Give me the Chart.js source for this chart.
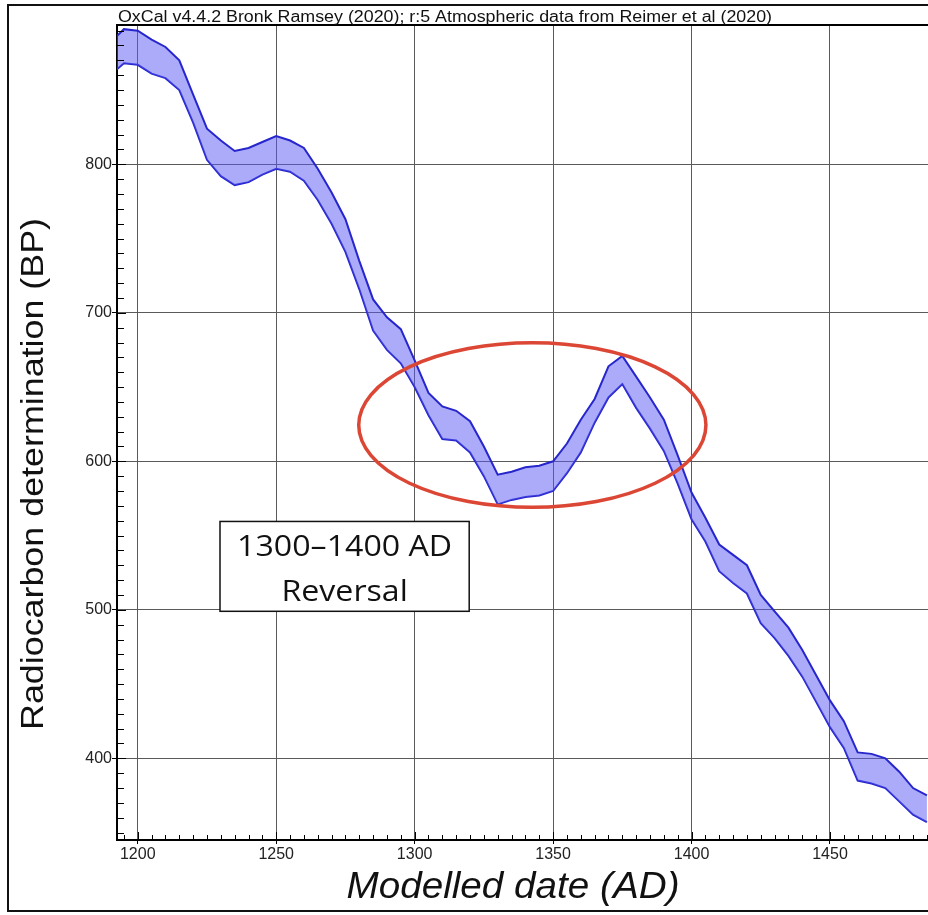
<!DOCTYPE html>
<html>
<head>
<meta charset="utf-8">
<script src="https://cdn.jsdelivr.net/npm/chart.js@4/dist/chart.umd.min.js"></script>
<style>
  html, body { margin: 0; padding: 0; background: #fff; overflow: hidden; }
  canvas { display: block; }
</style>
</head>
<body>
<canvas id="curva" width="928" height="915"></canvas>
<script>
const years = [1190, 1195, 1200, 1205, 1210, 1215, 1220, 1225, 1230, 1235,
  1240, 1245, 1250, 1255, 1260, 1265, 1270, 1275, 1280, 1285,
  1290, 1295, 1300, 1305, 1310, 1315, 1320, 1325, 1330, 1335,
  1340, 1345, 1350, 1355, 1360, 1365, 1370, 1375, 1380, 1385,
  1390, 1395, 1400, 1405, 1410, 1415, 1420, 1425, 1430, 1435,
  1440, 1445, 1450, 1455, 1460, 1465, 1470, 1475, 1480, 1485];

const upperBP = [882, 891, 890, 884, 879, 870, 847, 824, 816, 809,
  811, 815, 819, 816, 811, 797, 781, 763, 735, 709,
  697, 689, 668, 646, 637, 634, 627, 610, 591, 593,
  596, 597, 600, 612, 628, 642, 664, 671, 657, 643,
  628, 604, 579, 562, 544, 537, 530, 510, 499, 488,
  473, 456, 439, 425, 404, 403, 400, 391, 380, 375];

const lowerBP = [860, 868, 867, 861, 858, 850, 828, 803, 792, 786,
  788, 793, 797, 795, 789, 776, 760, 741, 716, 688,
  675, 666, 650, 631, 615, 614, 606, 590, 571, 574,
  576, 577, 580, 592, 606, 626, 643, 652, 636, 622,
  607, 585, 561, 546, 526, 518, 511, 491, 481, 469,
  455, 438, 421, 407, 385, 383, 380, 371, 362, 357];

const xMajorTicks = [1200, 1250, 1300, 1350, 1400, 1450];
const yMajorTicks = [400, 500, 600, 700, 800];

// anotaciones (en unidades de los ejes)
const ellipseCenter = [1342.5, 624.4];
const ellipseRadius = [62.7, 55.4];
const boxYears = [1229.7, 1319.7];
const boxBP = [499, 559.5];

const titleText = "OxCal v4.4.2 Bronk Ramsey (2020); r:5 Atmospheric data from Reimer et al (2020)";
const xTitle = "Modelled date (AD)";
const yTitle = "Radiocarbon determination (BP)";
const boxLines = ["1300\u20131400 AD", "Reversal"];

const SANS = '"Liberation Sans", Arial, sans-serif';

// Texto escalado horizontalmente para ocupar un ancho dado
function textoAjustado(ctx, text, x, y, width, align) {
  const w = ctx.measureText(text).width;
  ctx.save();
  ctx.translate(x, y);
  ctx.scale(width / w, 1);
  ctx.textAlign = align;
  ctx.fillText(text, 0, 0);
  ctx.restore();
  return width / w;
}

const esMayor = (v, lista) => lista.includes(Math.round(v));

const overlay = {
  id: "overlay",
  beforeDraw(chart) {
    const ctx = chart.ctx;
    ctx.save();
    ctx.fillStyle = "#fff";
    ctx.fillRect(0, 0, chart.width, chart.height);
    ctx.restore();
  },
  afterDraw(chart) {
    const ctx = chart.ctx;
    const area = chart.chartArea;
    const xs = chart.scales.x;
    const ys = chart.scales.y;
    ctx.save();

    // ticks menores hacia dentro
    ctx.strokeStyle = "#000";
    ctx.lineWidth = 1;
    ctx.beginPath();
    xs.ticks.forEach((t) => {
      const px = Math.round(xs.getPixelForValue(t.value)) + 0.5;
      const len = esMayor(t.value, xMajorTicks) ? 8 : 5;
      ctx.moveTo(px, area.bottom);
      ctx.lineTo(px, area.bottom - len);
    });
    ys.ticks.forEach((t) => {
      const py = Math.round(ys.getPixelForValue(t.value)) + 0.5;
      const len = esMayor(t.value, yMajorTicks) ? 9 : 7;
      ctx.moveTo(area.left, py);
      ctx.lineTo(area.left + len, py);
    });
    ctx.stroke();

    // borde superior del grafico
    ctx.lineWidth = 2;
    ctx.beginPath();
    ctx.moveTo(area.left - 1, area.top);
    ctx.lineTo(area.right, area.top);
    ctx.stroke();

    // elipse roja
    const cx = xs.getPixelForValue(ellipseCenter[0]);
    const cy = ys.getPixelForValue(ellipseCenter[1]);
    const rx = xs.getPixelForValue(ellipseCenter[0] + ellipseRadius[0]) - cx;
    const ry = cy - ys.getPixelForValue(ellipseCenter[1] + ellipseRadius[1]);
    ctx.strokeStyle = "#dc4634";
    ctx.lineWidth = 3.5;
    ctx.beginPath();
    ctx.ellipse(cx, cy, rx, ry, 0, 0, Math.PI * 2);
    ctx.stroke();

    // recuadro de la anotacion
    const bx1 = xs.getPixelForValue(boxYears[0]);
    const bx2 = xs.getPixelForValue(boxYears[1]);
    const by1 = ys.getPixelForValue(boxBP[1]);
    const by2 = ys.getPixelForValue(boxBP[0]);
    ctx.fillStyle = "#fff";
    ctx.fillRect(bx1, by1, bx2 - bx1, by2 - by1);
    ctx.strokeStyle = "#111";
    ctx.lineWidth = 1.5;
    ctx.strokeRect(bx1, by1, bx2 - bx1, by2 - by1);
    const bcx = (bx1 + bx2) / 2;
    ctx.fillStyle = "#111";
    ctx.font = '30px "Open Sans", "Noto Sans", sans-serif';
    ctx.textBaseline = "alphabetic";
    const sc = textoAjustado(ctx, boxLines[0], bcx, by1 + 35, 215, "center");
    const w2 = ctx.measureText(boxLines[1]).width * sc;
    textoAjustado(ctx, boxLines[1], bcx, by1 + 80, w2, "center");

    // marco exterior
    ctx.strokeStyle = "#111";
    ctx.lineWidth = 2;
    ctx.beginPath();
    ctx.moveTo(chart.width + 2, 5);
    ctx.lineTo(8, 5);
    ctx.lineTo(8, 911);
    ctx.lineTo(chart.width + 2, 911);
    ctx.stroke();

    // titulos
    ctx.fillStyle = "#111";
    ctx.font = "16px " + SANS;
    textoAjustado(ctx, titleText, area.left + 1, 22, 654, "left");

    ctx.font = "italic 36px " + SANS;
    textoAjustado(ctx, xTitle, 513, 898, 333, "center");

    ctx.font = "32px " + SANS;
    ctx.save();
    ctx.translate(43, 474);
    ctx.rotate(-Math.PI / 2);
    textoAjustado(ctx, yTitle, 0, 0, 512, "center");
    ctx.restore();

    ctx.restore();
  },
};

const ctx = document.getElementById("curva").getContext("2d");
new Chart(ctx, {
  type: "line",
  data: {
    datasets: [
      {
        label: "upper",
        data: years.map((y, i) => ({ x: y, y: upperBP[i] })),
        borderColor: "#2626cc",
        borderWidth: 2,
        backgroundColor: "rgba(88, 88, 245, 0.5)",
        fill: "+1",
        pointRadius: 0,
        tension: 0,
      },
      {
        label: "lower",
        data: years.map((y, i) => ({ x: y, y: lowerBP[i] })),
        borderColor: "#2626cc",
        borderWidth: 2,
        fill: false,
        pointRadius: 0,
        tension: 0,
      },
    ],
  },
  options: {
    responsive: false,
    animation: false,
    devicePixelRatio: 1,
    layout: { padding: { top: 25, left: 0, right: 0, bottom: 0 } },
    plugins: {
      legend: { display: false },
      tooltip: { enabled: false },
      title: { display: false },
    },
    scales: {
      x: {
        type: "linear",
        min: 1192.5,
        max: 1485.4,
        afterFit: (s) => { s.height = 75; },
        border: { color: "#000", width: 2 },
        grid: {
          color: (c) => (c.tick && esMayor(c.tick.value, xMajorTicks) ? "#5a5a5a" : "rgba(0,0,0,0)"),
          tickColor: (c) => (c.tick && esMayor(c.tick.value, xMajorTicks) ? "#000" : "rgba(0,0,0,0)"),
          lineWidth: 1,
          tickLength: 4,
        },
        ticks: {
          stepSize: 5,
          includeBounds: false,
          autoSkip: false,
          maxRotation: 0,
          padding: 1,
          color: "#222",
          font: { family: SANS, size: 16 },
          callback: (v) => (esMayor(v, xMajorTicks) ? String(Math.round(v)) : ""),
        },
      },
      y: {
        type: "linear",
        min: 345,
        max: 893.8,
        afterFit: (s) => { s.width = 117; },
        border: { color: "#000", width: 2 },
        grid: {
          color: (c) => (c.tick && esMayor(c.tick.value, yMajorTicks) ? "#5a5a5a" : "rgba(0,0,0,0)"),
          tickColor: (c) => (c.tick && esMayor(c.tick.value, yMajorTicks) ? "#000" : "rgba(0,0,0,0)"),
          lineWidth: 1,
          tickLength: 5,
        },
        ticks: {
          stepSize: 10,
          includeBounds: false,
          autoSkip: false,
          padding: 0,
          color: "#222",
          font: { family: SANS, size: 16 },
          callback: (v) => (esMayor(v, yMajorTicks) ? String(Math.round(v)) : ""),
        },
      },
    },
  },
  plugins: [overlay],
});
</script>
</body>
</html>
